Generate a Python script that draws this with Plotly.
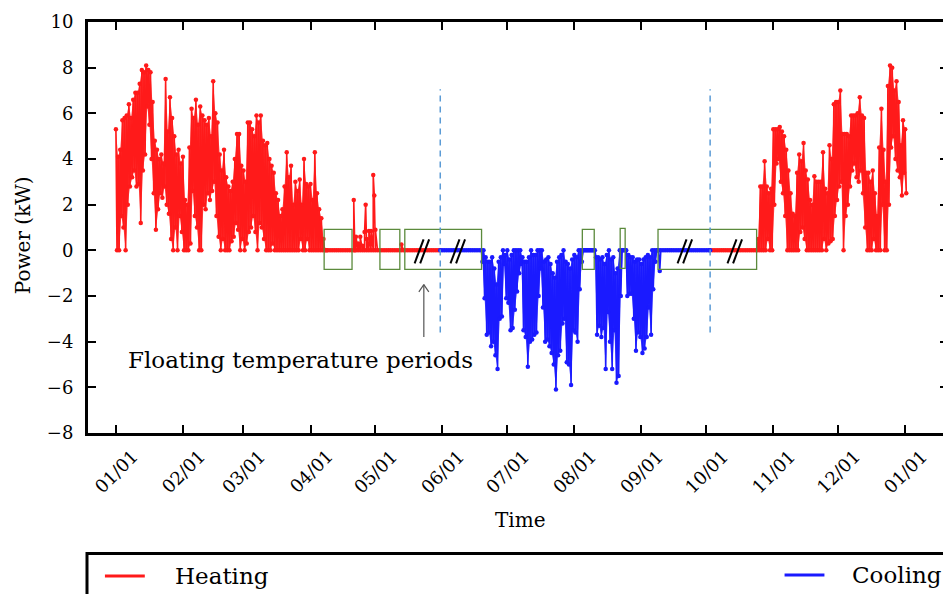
import plotly.graph_objects as go
import pandas as pd

BASE = pd.Timestamp("2015-01-01")

# ---------------- data ----------------
month_ticks = ["2015-01-01", "2015-02-01", "2015-03-01", "2015-04-01", "2015-05-01",
               "2015-06-01", "2015-07-01", "2015-08-01", "2015-09-01", "2015-10-01",
               "2015-11-01", "2015-12-01", "2016-01-01"]
month_labels = ["01/01", "02/01", "03/01", "04/01", "05/01", "06/01", "07/01",
                "08/01", "09/01", "10/01", "11/01", "12/01", "01/01"]
y_ticks = [-8, -6, -4, -2, 0, 2, 4, 6, 8, 10]

# Heating, winter: daily max / min (kW), days 0..97 from 01/01
heat_winter_max = [5.3, 4.1, 4.4, 5.7, 5.8, 5.9, 6.4, 5.8, 6.6, 6.9,
                   6.9, 7.3, 7.9, 7.8, 8.1, 7.9, 7.8, 6.5, 4.8, 4.4,
                   4.0, 4.2, 3.8, 7.5, 5.2, 6.7, 5.8, 5.0, 4.2, 4.4,
                   3.8, 4.1, 2.2, 2.0, 4.5, 6.2, 5.8, 6.6, 5.5, 6.3,
                   5.9, 5.7, 5.5, 5.8, 5.0, 7.4, 6.0, 5.6, 4.2, 3.5,
                   4.4, 3.2, 2.8, 2.6, 3.0, 4.0, 5.1, 5.1, 3.7, 3.5,
                   3.0, 5.6, 5.6, 5.3, 5.0, 5.9, 5.6, 5.9, 4.8, 4.6,
                   4.7, 4.0, 3.7, 3.4, 2.5, 2.2, 1.5, 1.8, 2.8, 4.3,
                   3.2, 3.7, 2.0, 3.0, 2.6, 3.1, 2.0, 4.0, 2.9, 2.8,
                   2.9, 2.2, 4.3, 2.5, 1.8, 1.4, 0.5, 0.0]
heat_winter_min = [0.0, 0.0, 1.5, 1.0, 0.0, 2.0, 2.8, 3.2, 3.5, 2.8,
                   2.9, 1.2, 3.5, 4.2, 6.3, 5.5, 4.0, 2.5, 0.9, 1.8,
                   2.5, 2.3, 2.8, 2.0, 1.6, 0.5, 0.0, 1.0, 0.0, 1.5,
                   0.8, 0.0, 0.0, 0.0, 0.3, 2.6, 1.5, 1.0, 0.0, 0.0,
                   2.0, 1.8, 2.5, 2.2, 2.6, 3.0, 1.5, 0.6, 0.0, 0.5,
                   0.0, 0.0, 0.0, 0.4, 0.6, 1.2, 0.9, 0.0, 0.5, 0.0,
                   0.3, 0.8, 1.0, 1.5, 0.8, 0.0, 1.2, 1.0, 0.5, 0.0,
                   0.0, 0.0, 0.3, 0.0, 0.0, 0.0, 0.0, 0.0, 0.0, 0.0,
                   0.0, 0.0, 0.0, 0.0, 0.0, 0.5, 0.0, 0.0, 0.5, 0.0,
                   0.0, 0.0, 0.0, 0.0, 0.0, 0.0, 0.0, 0.0]

# Heating, spring: isolated spikes (day from 01/01, kW); zero otherwise until 05/31
heat_spring_days = [110, 110.5, 111, 112, 113, 114, 115, 115.5, 116, 117, 118, 119, 119.5, 120, 132]
heat_spring_vals = [2.2, 0.0, 0.6, 0.3, 0.6, 0.2, 0.8, 2.0, 0.5, 0.85, 0.85, 3.3, 2.4, 0.9, 0.26]

# Heating, autumn: daily max / min, days 296..365
heat_autumn_start = 296
heat_autumn_max = [0.0, 0.5, 2.8, 2.8, 3.9, 2.8, 2.5, 2.7, 5.3, 5.3,
                   5.3, 5.4, 5.2, 5.0, 4.4, 3.5, 2.5, 1.6, 1.5, 3.4,
                   4.2, 3.9, 4.7, 3.5, 3.1, 2.2, 2.0, 3.25, 3.0, 3.0,
                   3.0, 4.3, 2.7, 2.5, 4.6, 4.0, 6.4, 6.5, 6.5, 7.0,
                   5.1, 5.1, 5.1, 5.0, 5.9, 5.9, 5.9, 6.0, 6.7, 5.9,
                   5.8, 3.4, 3.4, 3.0, 3.5, 2.5, 1.5, 4.5, 6.2, 4.4,
                   3.0, 7.2, 8.1, 8.0, 7.0, 7.4, 6.5, 4.6, 5.7, 5.3]
heat_autumn_min = [0.0, 0.0, 0.0, 0.0, 0.0, 0.5, 0.0, 0.0, 2.0, 3.8,
                   4.0, 3.0, 2.5, 1.5, 0.0, 0.0, 0.0, 0.0, 0.0, 0.0,
                   0.8, 1.0, 0.5, 0.0, 0.0, 0.0, 0.0, 0.0, 0.0, 0.0,
                   0.0, 0.5, 0.0, 0.3, 0.4, 0.5, 1.5, 2.2, 2.8, 3.0,
                   0.0, 1.5, 2.0, 2.8, 3.5, 3.8, 3.2, 3.0, 3.5, 2.5,
                   1.0, 0.0, 0.0, 0.0, 0.5, 0.0, 0.0, 0.0, 2.0, 0.0,
                   0.0, 2.0, 4.5, 5.0, 4.0, 3.5, 3.2, 2.4, 3.4, 2.5]

# Cooling: daily min (deepest) / max (closest to 0), days 169..251
cool_start = 169
cool_min = [-0.5, -2.1, -3.7, -3.6, -4.2, -4.0, -4.6, -5.2, -3.0, -2.9,
            -0.6, -2.1, -2.3, -3.5, -3.4, -2.6, -1.8, -1.0, -0.6, -3.5,
            -3.8, -5.1, -4.0, -3.9, -3.7, -3.6, -2.0, -0.8, -2.5, -4.0,
            -3.9, -4.2, -4.5, -5.0, -6.1, -4.6, -4.4, -3.2, -3.0, -4.9,
            -5.0, -5.9, -3.5, -3.6, -4.0, -1.7, -0.5, 0.0, 0.0, 0.0,
            0.0, 0.0, 0.0, -3.7, -3.3, -3.8, -3.4, -5.2, -2.7, -4.0,
            -5.2, -3.5, -5.8, -5.5, -2.0, 0.0, 0.0, -2.0, -1.9, -1.9,
            -3.0, -4.4, -3.6, -3.8, -4.5, -4.3, -3.8, -2.5, -3.7, -1.7,
            -0.5, 0.0, -0.9]
cool_max = [0.0, 0.0, -0.3, -0.5, -0.5, -0.3, -0.8, -1.5, -0.5, -0.3,
            0.0, -0.2, 0.0, -0.4, -0.2, 0.0, 0.0, 0.0, 0.0, -0.3,
            -0.5, -0.5, -0.3, 0.0, -0.2, -0.2, 0.0, 0.0, 0.0, -0.5,
            -0.4, -0.3, -0.6, -1.0, -1.2, -0.5, -0.3, -0.2, 0.0, -0.5,
            -0.6, -0.8, -0.4, -0.2, -0.3, 0.0, 0.0, 0.0, 0.0, 0.0,
            0.0, 0.0, 0.0, -0.3, -0.3, -0.4, -0.3, -0.6, -0.2, 0.0,
            -0.4, -0.3, -1.0, -0.8, 0.0, 0.0, 0.0, 0.0, -0.2, -0.3,
            -0.3, -0.5, -0.4, -0.4, -0.6, -0.4, -0.3, -0.2, -0.3, 0.0,
            0.0, 0.0, 0.0]

# season switch days (dashed lines) and floating-temperature periods (days from 01/01)
switch_days = [150.0, 274.8]
floating_periods = [(96.3, 109.2), (122.1, 131.3), (133.6, 169.1),
                    (215.7, 221.2), (233.2, 235.5), (250.7, 296.3)]
slash_days = [141.5, 158.1, 263.1, 286.2]


def day_to_date(d):
    return (BASE + pd.to_timedelta(d, unit="D")).strftime("%Y-%m-%d %H:%M:%S")


def zigzag(start, hi, lo):
    xs, ys = [], []
    for i, (a, b) in enumerate(zip(hi, lo)):
        xs += [start + i, start + i + 0.5]
        ys += [a, b]
    return xs, ys


def band(start, hi, lo):
    """closed outline between the daily max and min envelopes"""
    up_x = [start + i for i in range(len(hi))]
    lo_x = [start + i + 0.5 for i in range(len(lo))]
    xs = up_x + lo_x[::-1]
    ys = list(hi) + list(lo)[::-1]
    return [day_to_date(d) for d in xs], ys


# ---- heating series ----
hx, hy = zigzag(0, heat_winter_max, heat_winter_min)
pts = sorted([(d, 0.0) for d in range(98, 151)] + list(zip(heat_spring_days, heat_spring_vals)))
hx += [p[0] for p in pts]
hy += [p[1] for p in pts]
hx2 = [switch_days[1]] + list(range(276, heat_autumn_start))
hy2 = [0.0] * len(hx2)
ax_, ay_ = zigzag(heat_autumn_start, heat_autumn_max, heat_autumn_min)
hx2 += ax_
hy2 += ay_
heat_x = [day_to_date(d) for d in hx] + [None] + [day_to_date(d) for d in hx2]
heat_y = hy + [None] + hy2

# ---- cooling series ----
cx = [switch_days[0]] + list(range(151, cool_start))
cy = [0.0] * len(cx)
zx, zy = zigzag(cool_start, cool_max, cool_min)
cx += zx
cy += zy
tail = list(range(cool_start + len(cool_min), 275)) + [switch_days[1]]
cx += tail
cy += [0.0] * len(tail)
cool_x = [day_to_date(d) for d in cx]

FONT = "DejaVu Serif"
RED = "#ff1a1a"
BLUE = "#1a1aff"
RED_FILL = "rgba(255,40,40,0.9)"
BLUE_FILL = "rgba(40,40,255,0.9)"

fig = go.Figure()
# dense hourly look: filled band between daily envelopes
for (s, hi, lo, col) in [(0, heat_winter_max, heat_winter_min, RED_FILL),
                         (heat_autumn_start, heat_autumn_max, heat_autumn_min, RED_FILL),
                         (cool_start, cool_max, cool_min, BLUE_FILL)]:
    bx, by = band(s, hi, lo)
    fig.add_trace(go.Scatter(x=bx, y=by, mode="lines", fill="toself", fillcolor=col,
                             line=dict(width=0), hoverinfo="skip", showlegend=False))

fig.add_trace(go.Scatter(x=heat_x, y=heat_y, mode="lines+markers", name="Heating",
                         line=dict(color=RED, width=1.6, simplify=False),
                         marker=dict(color=RED, size=4.5, line=dict(width=0)),
                         connectgaps=False, showlegend=False))
fig.add_trace(go.Scatter(x=cool_x, y=cy, mode="lines+markers", name="Cooling",
                         line=dict(color=BLUE, width=1.6, simplify=False),
                         marker=dict(color=BLUE, size=4.5, line=dict(width=0)),
                         showlegend=False))

# page body has an 8px margin: the figure is laid out in page pixels minus that offset
OFF = 8
W, H = 951 - OFF, 594 - OFF
L, T = 88 - OFF, 22 - OFF
R, B = 0, H - (433 - OFF)
PW, PH = W - L - R, H - T - B


def pxx(px):
    return (px - OFF - L) / PW


def pxy(py):
    return (H - B - (py - OFF)) / PH


DAYPX = 2.17
UNITPX = PH / 18.0

shapes = []
GREEN = "#5b8a3c"
for a, b in floating_periods:
    top, bot = (0.96, -0.79) if b - a < 3 else (0.92, -0.83)
    shapes.append(dict(type="rect", xref="x", yref="y", x0=day_to_date(a), x1=day_to_date(b),
                       y0=bot, y1=top, line=dict(color=GREEN, width=1.3), fillcolor="rgba(0,0,0,0)",
                       layer="above"))
for d in switch_days:
    shapes.append(dict(type="line", xref="x", yref="y", x0=day_to_date(d), x1=day_to_date(d),
                       y0=-3.6, y1=7.05, line=dict(color="#5b9bd5", width=1.5, dash="6px,5px")))

# break marks "//"
for d in slash_days:
    for off in (-2.8, 2.8):
        shapes.append(dict(type="line", xref="x", yref="y",
                           x0=day_to_date(d + (off - 4.5) / DAYPX), x1=day_to_date(d + (off + 4.5) / DAYPX),
                           y0=-13 / UNITPX, y1=11 / UNITPX,
                           line=dict(color="black", width=2), layer="above"))

# arrow
arrow_day = 142.4
shapes.append(dict(type="line", xref="x", yref="y", x0=day_to_date(arrow_day), x1=day_to_date(arrow_day),
                   y0=-3.8, y1=-1.5, line=dict(color="#555555", width=1.2)))
for s in (-1, 1):
    shapes.append(dict(type="line", xref="x", yref="y", x0=day_to_date(arrow_day + s * 2.3),
                       x1=day_to_date(arrow_day), y0=-1.82, y1=-1.5,
                       line=dict(color="#555555", width=1.2)))

# legend box and keys
shapes.append(dict(type="rect", xref="paper", yref="paper", x0=pxx(87), x1=pxx(965),
                   y0=pxy(610), y1=pxy(553.5), line=dict(color="black", width=3),
                   fillcolor="rgba(0,0,0,0)"))
shapes.append(dict(type="line", xref="paper", yref="paper", x0=pxx(105), x1=pxx(145),
                   y0=pxy(576), y1=pxy(576), line=dict(color=RED, width=3)))
shapes.append(dict(type="line", xref="paper", yref="paper", x0=pxx(787), x1=pxx(827),
                   y0=pxy(575), y1=pxy(575), line=dict(color=BLUE, width=3)))

annotations = []
for tv, tl in zip(month_ticks, month_labels):
    annotations.append(dict(x=tv, xref="x", y=pxy(471), yref="paper", text=tl, showarrow=False,
                            textangle=-45, xanchor="center", yanchor="middle",
                            font=dict(family=FONT, size=18, color="black")))
annotations.append(dict(x=pxx(521.7), y=pxy(520), xref="paper", yref="paper", text="Time",
                        showarrow=False, xanchor="center", yanchor="middle",
                        font=dict(family=FONT, size=20, color="black")))
annotations.append(dict(x=pxx(23), y=pxy(235), xref="paper", yref="paper", text="Power (kW)",
                        showarrow=False, textangle=-90, xanchor="center", yanchor="middle",
                        font=dict(family=FONT, size=20, color="black")))
annotations.append(dict(x=pxx(301.7), y=pxy(360), xref="paper", yref="paper",
                        text="Floating temperature periods", showarrow=False,
                        xanchor="center", yanchor="middle",
                        font=dict(family=FONT, size=23, color="black")))
annotations.append(dict(x=pxx(173), y=pxy(576), xref="paper", yref="paper", text="Heating",
                        showarrow=False, xanchor="left", yanchor="middle",
                        font=dict(family=FONT, size=23, color="black")))
annotations.append(dict(x=pxx(853), y=pxy(575), xref="paper", yref="paper", text="Cooling",
                        showarrow=False, xanchor="left", yanchor="middle",
                        font=dict(family=FONT, size=23, color="black")))

fig.update_layout(
    width=W, height=H,
    margin=dict(l=L, r=R, t=T, b=B, pad=0),
    plot_bgcolor="white", paper_bgcolor="white",
    shapes=shapes, annotations=annotations,
    showlegend=False,
    font=dict(family=FONT, size=18, color="black"),
)
fig.update_xaxes(type="date",
                 range=[day_to_date(-12.9), day_to_date(384.8)],
                 tickvals=month_ticks, showticklabels=False,
                 ticks="inside", ticklen=8, tickwidth=1.5, tickcolor="black",
                 showline=True, linecolor="black", linewidth=3, mirror="ticks",
                 showgrid=False, zeroline=False)
fig.update_yaxes(range=[-8, 10], tickvals=y_ticks,
                 ticks="inside", ticklen=8, tickwidth=1.5, tickcolor="black",
                 showline=True, linecolor="black", linewidth=3, mirror="ticks",
                 showgrid=False, zeroline=False, ticklabelstandoff=8,
                 tickfont=dict(family=FONT, size=18, color="black"))

fig.write_html("out.html")
